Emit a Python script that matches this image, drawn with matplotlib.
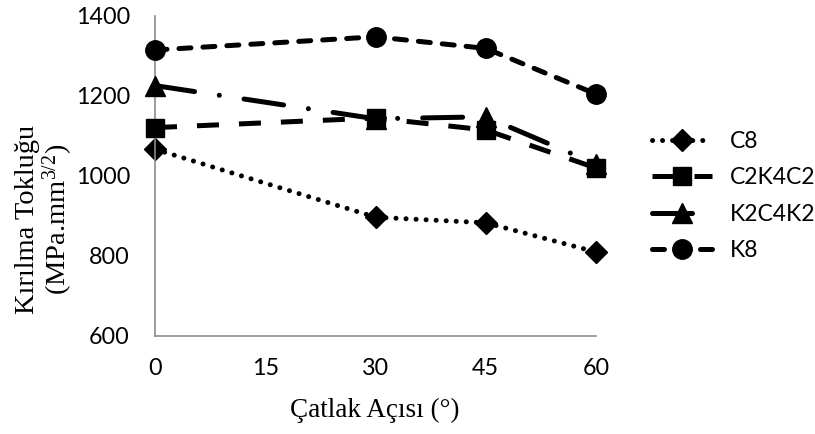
import matplotlib
matplotlib.use("Agg")
import matplotlib.pyplot as plt

plt.rcParams["mathtext.fontset"] = "custom"
plt.rcParams["mathtext.rm"] = "Liberation Serif"
plt.rcParams["mathtext.it"] = "Liberation Serif:italic"

angles = [0, 30, 45, 60]
x_ticks = [0, 15, 30, 45, 60]
c8 = [1067, 897, 883, 810]
c2k4c2 = [1121, 1145, 1115, 1020]
k2c4k2 = [1226, 1143, 1148, 1030]
k8 = [1315, 1348, 1319, 1205]

tick_font = "Lato"
title_font = "Liberation Serif"
ink = "black"
lw = 3.6

fig = plt.figure(figsize=(8.15, 4.34), dpi=100)
ax = fig.add_axes([155 / 815, 98 / 434, 441 / 815, 320 / 434])

styles = {
    "C8": dict(ls=(0, (0.01, 2.0)), marker="D", ms=11, cap="round"),
    "C2K4C2": dict(ls=(0, (4.4, 4.0)), marker="s", ms=13.5, cap="butt"),
    "K2C4K2": dict(ls=(0, (8, 5, 0.01, 5)), marker="^", ms=14, cap="round"),
    "K8": dict(ls=(0, (2.4, 2.4)), marker="o", ms=14, cap="round"),
}

handles = {}
for name, vals, z in [("C8", c8, 2), ("K2C4K2", k2c4k2, 3), ("C2K4C2", c2k4c2, 4), ("K8", k8, 5)]:
    st = styles[name]
    (h,) = ax.plot(angles, vals, color=ink, lw=lw, linestyle=st["ls"],
                   dash_capstyle=st["cap"], marker=st["marker"],
                   ms=st["ms"], mfc=ink, mec=ink, zorder=z, label=name,
                   clip_on=False)
    handles[name] = h

ax.set_xlim(0, 60)
ax.set_ylim(600, 1400)
ax.set_xticks(x_ticks)
ax.set_yticks([600, 800, 1000, 1200, 1400])
ax.tick_params(length=0, labelsize=16.8)
ax.tick_params(axis="y", pad=18)
ax.tick_params(axis="x", pad=16)
for lab in ax.get_xticklabels() + ax.get_yticklabels():
    lab.set_fontfamily(tick_font)

for side in ("top", "right"):
    ax.spines[side].set_visible(False)
for side in ("left", "bottom"):
    ax.spines[side].set_color("#8c8c8c")
    ax.spines[side].set_linewidth(1.2)

fig.text(375 / 815, 1 - 410 / 434, "Çatlak Açısı (°)", family=title_font,
         fontsize=19.5, ha="center", va="center")
fig.text(27 / 815, 1 - 219 / 434, "Kırılma Tokluğu", family=title_font,
         fontsize=20.5, ha="center", va="center", rotation=90)
fig.text(58 / 815, 1 - 219 / 434, r"(MPa.mm$^{\mathrm{3/2}}$)", family=title_font,
         fontsize=20.5, ha="center", va="center", rotation=90)

order = ["C8", "C2K4C2", "K2C4K2", "K8"]
fig.legend([handles[n] for n in order], order, loc="center left",
           bbox_to_anchor=(652 / 815, 1 - 196 / 434), frameon=False,
           prop={"family": tick_font, "size": 16.5},
           handlelength=2.6, handletextpad=0.8, labelspacing=0.66,
           borderpad=0, borderaxespad=0)

fig.savefig("out.png", dpi=100)
